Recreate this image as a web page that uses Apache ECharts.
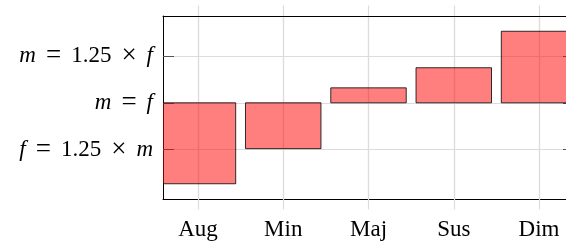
<!DOCTYPE html>
<html>
<head>
<meta charset="utf-8">
<script src="https://cdn.jsdelivr.net/npm/echarts@6/dist/echarts.min.js"></script>
<style>
  html, body { margin: 0; padding: 0; background: #fff; }
  #chart { width: 566px; height: 245px; }
</style>
</head>
<body>
<div id="chart"></div>
<script>
// ratio m/f in steps of log(1.25): +1 = "m = 1.25 x f", -1 = "f = 1.25 x m"
const categories = ["Aug", "Min", "Maj", "Sus", "Dim"];
const ratioSteps = [-1.73, -0.98, 0.32, 0.75, 1.53];
const yTicks = [-1, 0, 1];
const yTickLabels = {
  "1": "{i|m}{o|=}{n|1.25}{o|×}{i|f}",
  "0": "{i|m}{o|=}{i|f}",
  "-1": "{i|f}{o|=}{n|1.25}{o|×}{i|m}"
};

const font = "'Liberation Serif', 'DejaVu Serif', serif";
const xIdx = categories.map((c, i) => i);
const gridGray = "#dcdcdc";
const barShare = 0.885;

const xCommon = {
  type: "value",
  min: -0.41,
  max: 4.41,
  axisLine: { show: true, onZero: false, lineStyle: { color: "#000", width: 1 } },
  axisTick: { show: true, inside: false, length: 10.5, customValues: xIdx,
    lineStyle: { color: gridGray, width: 1.2 } },
  splitLine: { show: true, lineStyle: { color: gridGray, width: 1.2 } }
};

const yCommon = {
  type: "value",
  min: -2.056,
  max: 1.856,
  axisLine: { show: true, onZero: false, lineStyle: { color: "#000", width: 1 } },
  axisTick: { show: true, inside: true, length: 11, customValues: yTicks,
    lineStyle: { color: "#555", width: 1 } },
  splitLine: { show: true, lineStyle: { color: gridGray, width: 1.2 } }
};

const option = {
  animation: false,
  grid: {
    left: 163, top: 16, width: 411, height: 183,
    containLabel: false,
    outerBoundsMode: "none"
  },
  xAxis: [
    Object.assign({}, xCommon, {
      position: "bottom",
      axisLabel: {
        show: true,
        customValues: xIdx,
        margin: 19,
        fontFamily: font,
        fontSize: 23,
        color: "#000",
        formatter: v => categories[v]
      }
    }),
    Object.assign({}, xCommon, {
      position: "top",
      axisLabel: { show: false }
    })
  ],
  yAxis: [
    Object.assign({}, yCommon, {
      position: "left",
      axisLabel: {
        show: true,
        customValues: yTicks,
        margin: 10,
        formatter: v => yTickLabels[String(v)],
        rich: {
          i: { fontFamily: font, fontSize: 23, fontStyle: "italic", color: "#000" },
          n: { fontFamily: font, fontSize: 23, color: "#000" },
          o: { fontFamily: font, fontSize: 27, color: "#000", padding: [0, 10] }
        }
      }
    }),
    Object.assign({}, yCommon, {
      position: "right",
      axisLabel: { show: false },
      splitLine: { show: false }
    })
  ],
  series: [
    {
      type: "custom",
      xAxisIndex: 0,
      yAxisIndex: 0,
      clip: true,
      data: ratioSteps.map((v, i) => [i, v]),
      encode: { x: 0, y: 1 },
      renderItem: (params, api) => {
        const i = api.value(0);
        const v = api.value(1);
        const base = api.coord([i, 0]);
        const end = api.coord([i, v]);
        const w = api.size([barShare, 0])[0];
        return {
          type: "rect",
          shape: {
            x: base[0] - w / 2,
            y: Math.min(base[1], end[1]),
            width: w,
            height: Math.abs(end[1] - base[1])
          },
          style: {
            fill: "rgba(255,0,0,0.5)",
            stroke: "rgba(0,0,0,0.8)",
            lineWidth: 1
          }
        };
      }
    }
  ]
};

const chart = echarts.init(document.getElementById("chart"), null, { renderer: "canvas" });
chart.setOption(option);
window.addEventListener("resize", () => chart.resize());
</script>
</body>
</html>
